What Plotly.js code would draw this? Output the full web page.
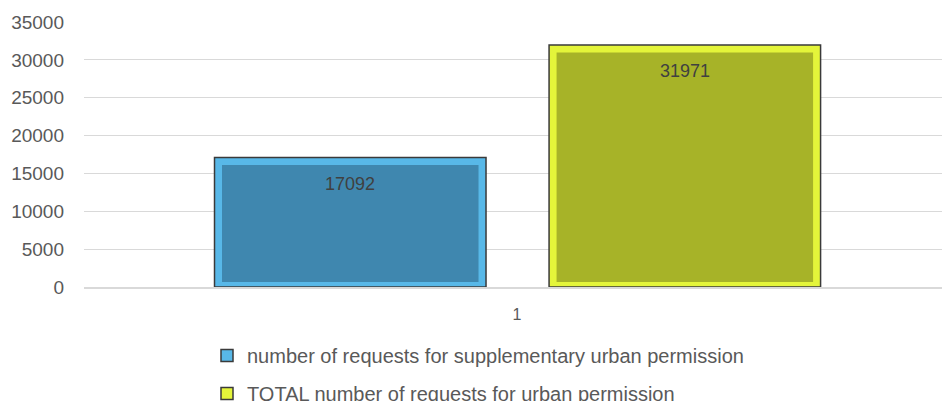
<!DOCTYPE html>
<html><head><meta charset="utf-8">
<script src="https://cdn.plot.ly/plotly-3.0.1.min.js"></script>
<style>html,body{margin:0;padding:0;background:#fff}</style>
</head><body>
<div id="chart" style="width:942px;height:401px"></div>
<script>
// ---- data ----
const categories = ['1'];
const seriesNames = ['number of requests for supplementary urban permission',
                     'TOTAL number of requests for urban permission'];
const supplementary = [17092];
const total = [31971];
const yTicks = [0, 5000, 10000, 15000, 20000, 25000, 30000, 35000];
const yTickText = ['0', '5000', '10000', '15000', '20000', '25000', '30000', '35000'];

// ---- style ----
const yMax = 35000;
const plotH = 265;                 // px height of plot area
const unitsPerPx = yMax / plotH;
const xRange = [-0.5, 0.4907];
const plotW = 858;
const xUnitsPerPx = (xRange[1] - xRange[0]) / plotW;
const barW = 0.3135;
const offsets = [-0.3493, 0.0370];
const bevelSide = 7.5 * xUnitsPerPx;
const bevelTop = 7.5 * unitsPerPx;
const bevelBottom = 5 * unitsPerPx;
const outerCols = ['#58b8e8', '#e4f53a'];
const innerCols = ['#3f87af', '#a7b328'];
const edgeCol = '#3a3a3a';

const seriesVals = [supplementary, total];
const traces = [];
seriesVals.forEach((vals, i) => {
  traces.push({
    type: 'bar', x: categories, y: vals, name: seriesNames[i],
    offset: offsets[i], width: barW, legendgroup: 'g' + i,
    marker: {color: outerCols[i], line: {color: edgeCol, width: 1.5}},
    hoverinfo: 'skip'
  });
  traces.push({
    type: 'bar', x: categories, y: vals.map(v => v - bevelTop - bevelBottom),
    base: vals.map(() => bevelBottom), showlegend: false, legendgroup: 'g' + i,
    offset: offsets[i] + bevelSide, width: barW - 2 * bevelSide,
    marker: {color: innerCols[i], line: {width: 0}},
    hoverinfo: 'skip'
  });
});

const annotations = seriesVals.map((vals, i) => ({
  x: offsets[i] + barW / 2, y: vals[0], xref: 'x', yref: 'y',
  text: String(vals[0]), showarrow: false, yanchor: 'middle', yshift: -26,
  font: {family: 'Liberation Sans, Arial, sans-serif', size: 18, color: '#404040'}
}));

const layout = {
  width: 942, height: 401,
  margin: {l: 84, r: 0, t: 22, b: 114, autoexpand: false},
  paper_bgcolor: '#fff', plot_bgcolor: '#fff',
  barmode: 'overlay',
  showlegend: true,
  font: {family: 'Liberation Sans, Arial, sans-serif', color: '#595959'},
  xaxis: {
    type: 'category', range: xRange, showgrid: false, zeroline: false,
    showline: true, linecolor: '#d9d9d9', linewidth: 1.5,
    ticks: '', ticklabelstandoff: 12,
    tickfont: {size: 16, color: '#595959'}
  },
  yaxis: {
    range: [0, yMax], tickvals: yTicks, ticktext: yTickText,
    showgrid: true, gridcolor: '#d9d9d9',
    gridwidth: 1, zeroline: false, showline: false, ticks: '',
    ticklabelstandoff: 19,
    tickfont: {size: 19, color: '#595959'}
  },
  legend: {
    orientation: 'v', x: (207 - 84) / plotW, xanchor: 'left', xref: 'paper',
    y: -0.185, yanchor: 'top', tracegroupgap: 9,
    font: {size: 20, color: '#595959'}, bgcolor: 'rgba(0,0,0,0)'
  },
  annotations: annotations
};

Plotly.newPlot('chart', traces, layout, {displayModeBar: false, staticPlot: true});
</script>
</body></html>
